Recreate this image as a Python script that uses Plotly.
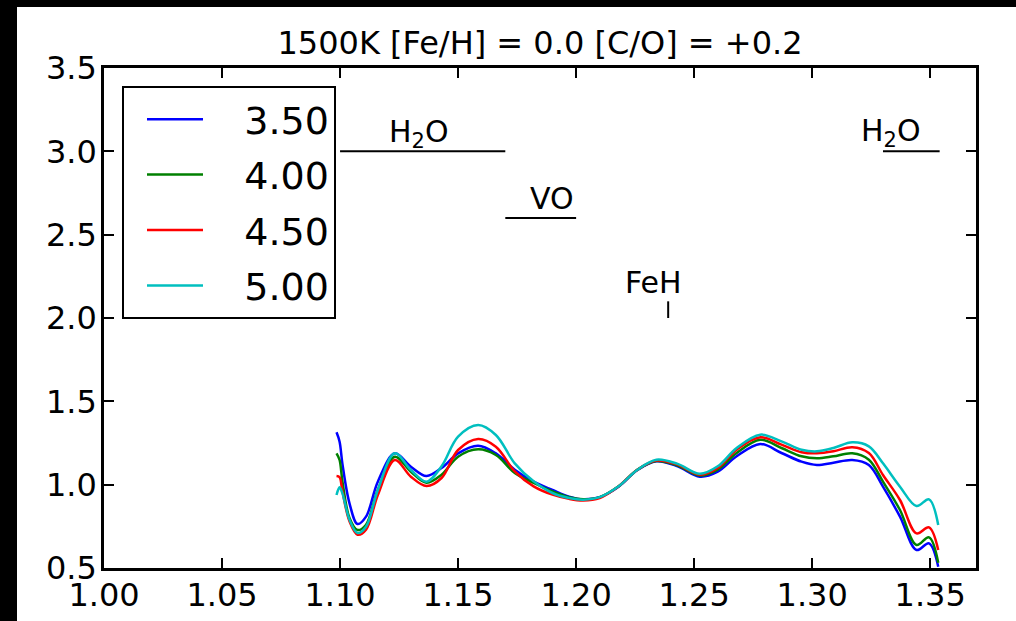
import plotly.graph_objects as go

# ---------------- data ----------------
wavelength = [1.0985, 1.0998, 1.101, 1.104, 1.1074, 1.111, 1.116, 1.1232, 1.130, 1.1366,
              1.143, 1.150, 1.1585, 1.166, 1.174, 1.182, 1.190, 1.197, 1.203, 1.210,
              1.218, 1.226, 1.234, 1.243, 1.2524, 1.260, 1.268, 1.278, 1.287, 1.2955,
              1.302, 1.309, 1.317, 1.324, 1.330, 1.3372, 1.3442, 1.3495, 1.3534]

flux_350 = [1.314, 1.258, 1.125, 0.888, 0.764, 0.808, 1.018, 1.188, 1.108, 1.052,
            1.10, 1.188, 1.234, 1.188, 1.09, 1.018, 0.968, 0.928, 0.912, 0.925,
            0.988, 1.088, 1.14, 1.11, 1.048, 1.078, 1.17, 1.244, 1.19, 1.138,
            1.118, 1.132, 1.148, 1.118, 0.988, 0.808, 0.608, 0.648, 0.508]
flux_400 = [1.188, 1.148, 1.02, 0.80, 0.728, 0.76, 0.968, 1.168, 1.078, 1.012,
            1.06, 1.168, 1.212, 1.178, 1.07, 1.01, 0.96, 0.925, 0.912, 0.925,
            0.99, 1.09, 1.142, 1.115, 1.055, 1.09, 1.19, 1.27, 1.22, 1.17,
            1.158, 1.17, 1.188, 1.15, 1.018, 0.848, 0.638, 0.684, 0.532]
flux_450 = [1.052, 1.044, 0.96, 0.78, 0.70, 0.73, 0.938, 1.148, 1.048, 0.992,
            1.04, 1.208, 1.274, 1.228, 1.08, 0.99, 0.94, 0.915, 0.905, 0.92,
            0.99, 1.09, 1.145, 1.12, 1.06, 1.10, 1.21, 1.285, 1.24, 1.195,
            1.188, 1.20, 1.225, 1.19, 1.058, 0.908, 0.708, 0.744, 0.608]
flux_500 = [0.938, 0.984, 0.948, 0.79, 0.71, 0.748, 0.968, 1.188, 1.088, 1.018,
            1.11, 1.288, 1.358, 1.298, 1.128, 1.02, 0.95, 0.92, 0.91, 0.925,
            0.99, 1.09, 1.15, 1.125, 1.065, 1.11, 1.22, 1.30, 1.26, 1.21,
            1.20, 1.22, 1.254, 1.23, 1.128, 0.988, 0.872, 0.912, 0.758]

series_labels = ["3.50", "4.00", "4.50", "5.00"]
series_values = [flux_350, flux_400, flux_450, flux_500]
series_colors = ["#0000ff", "#008000", "#ff0000", "#00bfbf"]

# molecular band markers
band_names = ["H<sub>2</sub>O", "VO", "FeH", "H<sub>2</sub>O"]
band_x0 = [1.10, 1.17, 1.239, 1.33]
band_x1 = [1.17, 1.20, 1.239, 1.354]
band_y0 = [3.0, 2.6, 2.0, 3.0]
band_y1 = [3.0, 2.6, 2.1, 3.0]
label_x = [1.1336, 1.1897, 1.2327, 1.3336]
label_y = [3.106, 2.716, 2.216, 3.113]

title_text = "1500K [Fe/H] = 0.0 [C/O] = +0.2"
x_ticks = [1.00, 1.05, 1.10, 1.15, 1.20, 1.25, 1.30, 1.35]
y_ticks = [0.5, 1.0, 1.5, 2.0, 2.5, 3.0, 3.5]

FONT = "DejaVu Sans"
W, H = 1016, 621
ML, MR, MT, MB = 104, 40, 68, 53
PW, PH = W - ML - MR, H - MT - MB

fig = go.Figure()
for i, (lab, vals, col) in enumerate(zip(series_labels, series_values, series_colors)):
    fig.add_trace(go.Scatter(
        x=wavelength, y=vals, mode="lines",
        name="\u00a0\u00a0\u00a0" + lab,
        legendgroup=f"g{i}",
        line=dict(color=col, width=2.5, shape="spline", smoothing=1.0),
    ))

shapes = []
for x0, x1, y0, y1 in zip(band_x0, band_x1, band_y0, band_y1):
    shapes.append(dict(type="line", xref="x", yref="y", x0=x0, x1=x1, y0=y0, y1=y1,
                       line=dict(color="black", width=2)))

# black border strips (left and top) of the original image
shapes.append(dict(type="rect", xref="paper", yref="paper",
                   x0=-ML / PW, x1=(17 - ML) / PW, y0=-MB / PH, y1=1 + MT / PH,
                   fillcolor="black", line=dict(width=0), layer="above"))
shapes.append(dict(type="rect", xref="paper", yref="paper",
                   x0=-ML / PW, x1=1 + MR / PW, y0=1 + (MT - 7) / PH, y1=1 + MT / PH,
                   fillcolor="black", line=dict(width=0), layer="above"))

annotations = []
for name, lx, ly in zip(band_names, label_x, label_y):
    annotations.append(dict(x=lx, y=ly, xref="x", yref="y", text=name, showarrow=False,
                            xanchor="center", yanchor="middle",
                            font=dict(family=FONT, size=30, color="black")))

axis_common = dict(showline=True, linecolor="black", linewidth=2.5, mirror="ticks",
                   ticks="inside", ticklen=10, tickwidth=1.5, tickcolor="black",
                   showgrid=False, zeroline=False, automargin=False,
                   tickfont=dict(family=FONT, size=32, color="black"))

fig.update_layout(
    width=W, height=H, autosize=False,
    margin=dict(l=ML, r=MR, t=MT, b=MB, autoexpand=False),
    paper_bgcolor="white", plot_bgcolor="white",
    title=dict(text=title_text, x=0.5, xref="paper", xanchor="center",
               y=1, yref="paper", yanchor="bottom", pad=dict(b=14),
               font=dict(family=FONT, size=32, color="black")),
    xaxis=dict(range=[1.0, 1.3694], tickvals=x_ticks, tickformat=".2f",
               ticklabelstandoff=-3, **axis_common),
    yaxis=dict(range=[0.5, 3.5], tickvals=y_ticks, tickformat=".1f",
               ticklabelstandoff=-2, **axis_common),
    legend=dict(x=(122 - ML) / PW, y=(H - MB - 86) / PH, xanchor="left", yanchor="top",
                bgcolor="white", bordercolor="black", borderwidth=2,
                font=dict(family=FONT, size=38, color="black"),
                tracegroupgap=3, itemwidth=56, indentation=18),
    shapes=shapes, annotations=annotations,
    showlegend=True,
)

fig.write_html("out.html", config={"displayModeBar": False},
               post_script="document.body.style.margin='0';"
               "document.body.style.overflow='hidden';"
               "window.dispatchEvent(new Event('resize'));")
